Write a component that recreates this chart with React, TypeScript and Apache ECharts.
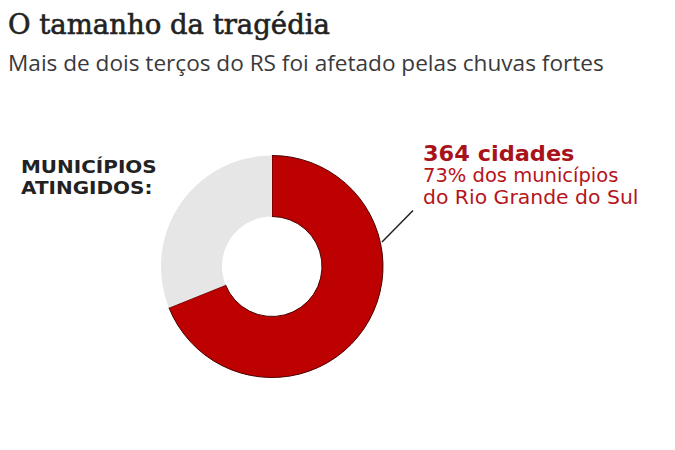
import React, { useEffect, useRef } from "react";
import * as echarts from "echarts";

const title = "O tamanho da tragédia";
const subtitle = "Mais de dois terços do RS foi afetado pelas chuvas fortes";
const sideLabel = ["MUNICÍPIOS", "ATINGIDOS:"];
const categories = ["Municípios atingidos", "Demais municípios"];
const values = [364, 164];
const shareLabel = 73;
const calloutLines = [`${shareLabel}% dos municípios`, "do Rio Grande do Sul"];

const RED = "#bd0000";
const GREY = "#e6e6e6";

export default function App() {
  const ref = useRef<HTMLDivElement>(null);
  useEffect(() => {
    document.body.style.margin = "0";
    const chart = echarts.init(ref.current!, null, { renderer: "svg" });
    const txt = (
      x: number,
      y: number,
      text: string,
      font: string,
      fill: string,
      extra: any = {},
      scaleX = 1
    ) => ({
      type: "text",
      x,
      y,
      scaleX,
      silent: true,
      style: { text, font, fill, verticalAlign: "middle", align: "left", ...extra },
    });
    chart.setOption({
      animation: false,
      backgroundColor: "#ffffff",
      series: [
        {
          type: "pie",
          center: [272, 266.5],
          radius: [50, 111],
          startAngle: 90,
          clockwise: true,
          label: { show: false },
          labelLine: { show: false },
          emphasis: { disabled: true },
          data: categories.map((name, i) => ({
            name,
            value: values[i],
            itemStyle:
              i === 0
                ? { color: RED, borderColor: "#4a0000", borderWidth: 1 }
                : { color: GREY, borderWidth: 0 },
          })),
        },
      ],
      graphic: [
        txt(8, 23.5, title, "27.5px 'DejaVu Serif'", "#222222", {
          stroke: "#222222",
          lineWidth: 0.6,
        }),
        txt(8, 62.5, subtitle, "22.6px 'Open Sans'", "#3a3a3c"),
        txt(21, 166.5, sideLabel[0], "bold 18px 'DejaVu Sans'", "#222222", {}, 1.11),
        txt(21, 187.5, sideLabel[1], "bold 18px 'DejaVu Sans'", "#222222", {}, 1.11),
        txt(423, 153, `${values[0]} cidades`, "bold 22px 'DejaVu Sans'", "#a8121a", {}, 1.02),
        txt(423, 175, calloutLines[0], "19.5px 'DejaVu Sans'", "#b5141b"),
        txt(423, 197.5, calloutLines[1], "19.5px 'DejaVu Sans'", "#b5141b", {}, 1.045),
        {
          type: "line",
          silent: true,
          shape: { x1: 382, y1: 242, x2: 413, y2: 210.5 },
          style: { stroke: "#222222", lineWidth: 1.5 },
        },
      ],
    });
    return () => chart.dispose();
  }, []);
  return <div ref={ref} style={{ width: 675, height: 450 }} />;
}
